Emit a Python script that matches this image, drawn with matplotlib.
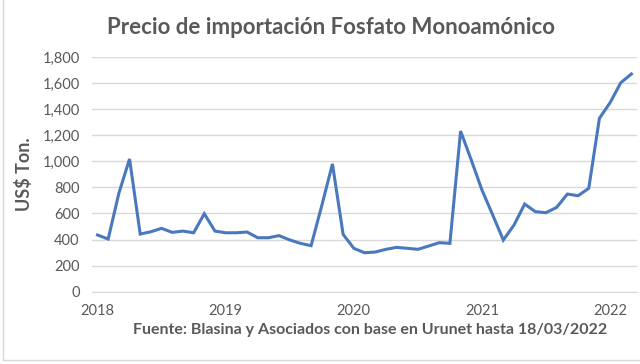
import matplotlib
matplotlib.use("Agg")
import matplotlib.pyplot as plt
import numpy as np

# monthly import price, Jan 2018 .. Mar 2022 (US$/ton)
prices = [435, 404, 755, 1018, 442, 460, 486, 455, 465, 452, 598, 465,
          452, 452, 458, 414, 414, 430, 397, 371, 353, 660, 980, 440,
          333, 299, 304, 325, 340, 333, 325, 350, 376, 371, 1232, 1010,
          780, 590, 396, 511, 672, 614, 606, 647, 749, 736, 793, 1330,
          1450, 1603, 1670]
years = ["2018", "2019", "2020", "2021", "2022"]
year_pos = [0, 12, 24, 36, 48]
yticks = list(range(0, 1801, 200))

txt = "#595959"
plt.rcParams['font.family'] = ['Lato', 'DejaVu Sans']

fig = plt.figure(figsize=(6.4, 3.64), dpi=100)
ax = fig.add_axes([0.144, 0.1986, 0.851, 0.6448])

months = np.arange(len(prices))
ax.plot(months, prices, color="#4A78BE", linewidth=2.2, solid_joinstyle="miter")

ax.set_xlim(-0.5, len(prices) - 0.5)
ax.set_ylim(0, 1800)
ax.set_yticks(yticks)
ax.set_yticklabels([f"{v:,}" for v in yticks])
ax.set_xticks(year_pos)
ax.set_xticklabels(years)
ax.tick_params(length=0, colors=txt, labelsize=10.5)
ax.tick_params(axis="y", pad=9)
ax.tick_params(axis="x", pad=9)
ax.grid(axis="y", color="#D9D9D9", linewidth=1)
ax.set_axisbelow(True)
for s in ax.spines.values():
    s.set_visible(False)
ax.spines["bottom"].set_visible(True)
ax.spines["bottom"].set_color("#D9D9D9")

ax.set_ylabel("US$ Ton.", fontsize=13, fontweight="bold", color=txt, labelpad=7)

fig.text(0.517, 0.925, "Precio de importación Fosfato Monoamónico",
         ha="center", va="center", fontsize=16, fontweight="bold", color=txt)
fig.text(0.578, 0.093, "Fuente: Blasina y Asociados con base en Urunet hasta 18/03/2022",
         ha="center", va="center", fontsize=11.5, fontweight="bold", color=txt)

# light chart border
fig.add_artist(plt.Line2D([0.005, 0.005], [0.01, 1], color="#D9D9D9", lw=1))
fig.add_artist(plt.Line2D([0.005, 1], [0.012, 0.012], color="#D9D9D9", lw=1))

fig.savefig("out.png", dpi=100, facecolor="white")
